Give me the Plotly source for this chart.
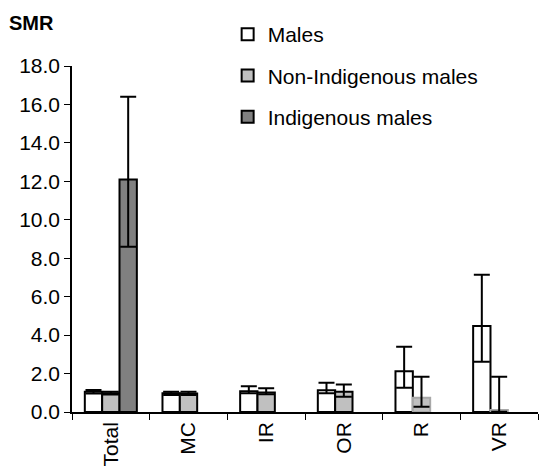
import plotly.graph_objects as go

categories = ["Total", "MC", "IR", "OR", "R", "VR"]

males = [1.05, 0.97, 1.08, 1.13, 2.12, 4.48]
males_lo = [0.96, 0.88, 0.98, 0.98, 1.26, 2.61]
males_hi = [1.14, 1.05, 1.34, 1.52, 3.40, 7.14]

nonind = [0.98, 0.96, 1.02, 1.05, 0.74, 0.11]
nonind_lo = [0.91, 0.88, 0.92, 0.79, 0.27, 0.01]
nonind_hi = [1.05, 1.05, 1.24, 1.43, 1.83, 1.83]

indig = [12.1, None, None, None, None, None]
indig_lo = [8.6, None, None, None, None, None]
indig_hi = [16.4, None, None, None, None, None]

FONT = "Liberation Sans, Arial, sans-serif"


def err(vals, lo, hi):
    plus = [None if v is None else h - v for v, h in zip(vals, hi)]
    minus = [None if v is None else v - l for v, l in zip(vals, lo)]
    return dict(type="data", symmetric=False, array=plus, arrayminus=minus,
                color="black", thickness=2, width=8, visible=True)


fig = go.Figure()
fig.add_trace(go.Bar(
    x=categories, y=males, name="Males", legendgroup="a",
    marker=dict(color="white", line=dict(color="black", width=2)),
    error_y=err(males, males_lo, males_hi)))
fig.add_trace(go.Bar(
    x=categories, y=nonind, name="Non-Indigenous males", legendgroup="b",
    marker=dict(color="#c0c0c0",
                line=dict(color=["black", "black", "black", "black", "#a8a8a8", "#a8a8a8"], width=2)),
    error_y=err(nonind, nonind_lo, nonind_hi)))
fig.add_trace(go.Bar(
    x=categories, y=indig, name="Indigenous males", legendgroup="c",
    marker=dict(color="#808080", line=dict(color="black", width=2)),
    error_y=err(indig, indig_lo, indig_hi)))

fig.update_layout(
    width=539, height=470,
    margin=dict(l=72, r=1, t=66, b=57.5, pad=0),
    paper_bgcolor="white", plot_bgcolor="white",
    barmode="group", bargap=0.33, bargroupgap=0,
    font=dict(family=FONT, size=21, color="black"),
    showlegend=True,
    legend=dict(x=0.334, y=1.15, xanchor="left", yanchor="top",
                tracegroupgap=11, font=dict(size=21, family=FONT),
                bgcolor="rgba(0,0,0,0)"),
    annotations=[dict(text="<b>SMR</b>", xref="paper", yref="paper",
                      x=-0.139, y=1.125, xanchor="left", yanchor="middle",
                      showarrow=False, font=dict(size=20, family=FONT))],
)
fig.update_xaxes(
    type="category", showline=True, linecolor="black", linewidth=1.5,
    ticks="outside", tickson="boundaries", ticklen=6, tickcolor="black",
    tickangle=-90, showgrid=False, automargin=False,
    tickfont=dict(size=21, family=FONT))
fig.update_yaxes(
    range=[0, 18], tickvals=[0, 2, 4, 6, 8, 10, 12, 14, 16, 18],
    tickformat=".1f", showline=True, linecolor="black", linewidth=1.5,
    ticks="outside", ticklen=6, tickcolor="black", showgrid=False,
    zeroline=False, automargin=False, tickfont=dict(size=21, family=FONT))

fig.write_html("out.html")
